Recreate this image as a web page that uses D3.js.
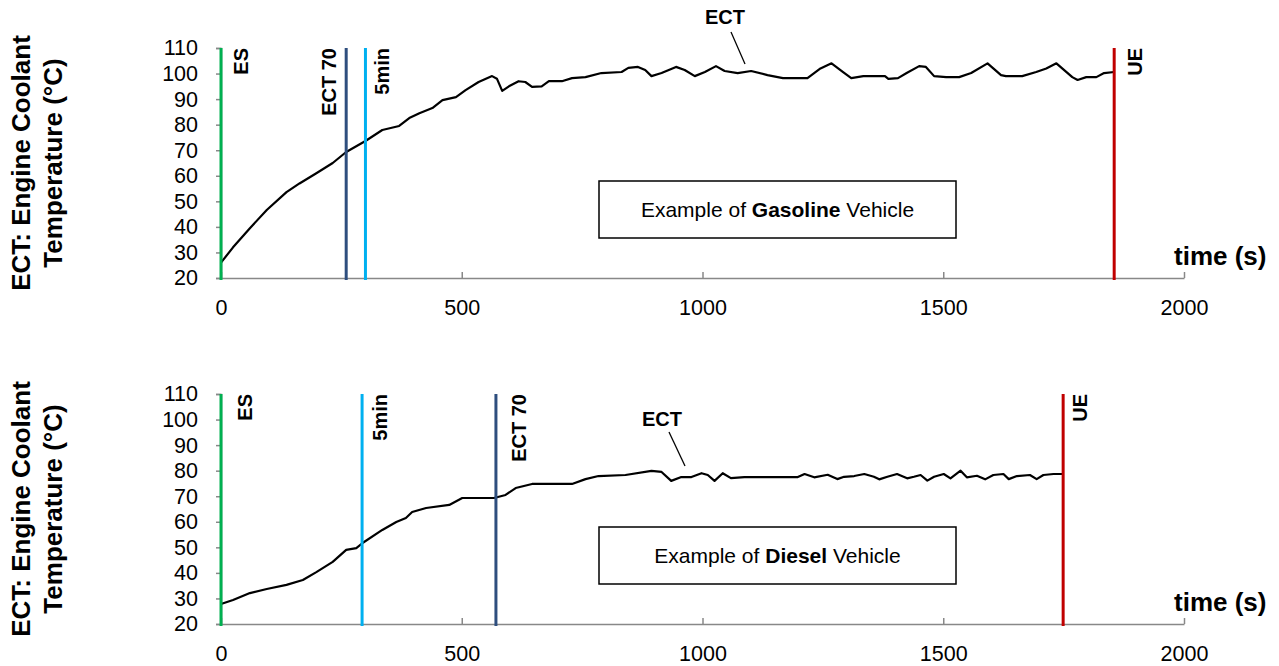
<!DOCTYPE html>
<html>
<head>
<meta charset="utf-8">
<script src="https://cdn.jsdelivr.net/npm/d3@7"></script>
<style>
  html, body { margin: 0; padding: 0; background: #fff; }
  svg { display: block; font-family: Arial, "Liberation Sans", sans-serif; }
</style>
</head>
<body>
<svg id="chart" width="1279" height="666"></svg>
<script>
// ---------- DATA ----------
const xTickValues = [0, 500, 1000, 1500, 2000];
const yTickValues = [20, 30, 40, 50, 60, 70, 80, 90, 100, 110];

// Gasoline vehicle: engine coolant temperature (°C) vs time (s)
const gasTime = [0, 25, 60, 95, 136, 163, 198, 232, 260, 300, 335, 370, 391, 412, 439, 460, 488, 508, 535, 563, 573, 584, 598, 618, 632, 646, 666, 681, 708, 729, 757, 790, 832, 846, 866, 881, 894, 915, 945, 963, 984, 1005, 1028, 1046, 1073, 1101, 1135, 1167, 1218, 1245, 1268, 1292, 1309, 1334, 1379, 1386, 1406, 1424, 1450, 1464, 1481, 1506, 1533, 1558, 1592, 1620, 1630, 1664, 1693, 1714, 1735, 1768, 1779, 1797, 1818, 1834, 1855];
const gasECT  = [26, 32, 39.5, 46.6, 53.6, 57, 61, 65, 69.3, 73.6, 77.9, 79.5, 82.6, 84.5, 86.5, 89.6, 90.8, 93.5, 96.7, 99, 98, 93.2, 95, 97, 96.7, 94.8, 95, 97, 97, 98.2, 98.6, 100.2, 100.6, 102.2, 102.6, 101.4, 99, 100.2, 102.6, 101.4, 99, 100.6, 102.9, 101, 100.2, 101, 99.4, 98.2, 98.2, 102, 104, 100.6, 98.2, 99, 99, 97.9, 98.2, 100.2, 102.9, 102.6, 99, 98.6, 98.6, 100.2, 104, 99.4, 99, 99, 100.6, 102, 104, 98.6, 97.5, 98.6, 98.6, 100.2, 100.6];

// Diesel vehicle
const dslTime = [0, 25, 60, 95, 136, 170, 198, 232, 260, 281, 294, 335, 364, 384, 397, 426, 474, 501, 567, 591, 612, 646, 729, 757, 784, 840, 894, 915, 935, 956, 977, 998, 1011, 1025, 1042, 1059, 1087, 1198, 1212, 1232, 1260, 1280, 1294, 1315, 1336, 1356, 1367, 1384, 1404, 1425, 1439, 1453, 1467, 1481, 1501, 1515, 1536, 1549, 1570, 1587, 1604, 1625, 1636, 1653, 1680, 1694, 1708, 1729, 1749];
const dslECT  = [27.8, 29.4, 32.1, 33.7, 35.3, 37.2, 40.3, 44.3, 49, 49.7, 51.7, 56.8, 59.9, 61.5, 63.8, 65.4, 66.6, 69.3, 69.3, 70.5, 73.2, 74.8, 74.8, 76.7, 77.9, 78.3, 79.9, 79.5, 76, 77.5, 77.5, 79, 78.3, 76, 79, 77.1, 77.5, 77.5, 78.7, 77.4, 78.4, 76.7, 77.6, 77.9, 78.7, 77.6, 76.6, 77.6, 78.7, 77, 77.6, 78.3, 76.1, 77.6, 78.7, 77, 80, 77.4, 78, 76.6, 78.3, 78.7, 76.7, 77.9, 78.3, 76.7, 78.3, 78.7, 78.7];

// Event markers (label, time in s)
const markerNames = ["ES", "ECT 70", "5min", "UE"];
const gasMarkerTimes = [0, 260, 300, 1855];
const dslMarkerTimes = [0, 571, 293, 1749];

const boxPrefix = "Example of ";
const boxSuffix = " Vehicle";
const gasFuel = "Gasoline";
const dslFuel = "Diesel";

// ---------- STYLE ----------
const markerColors = {"ES": "#00B050", "ECT 70": "#2E4E7E", "5min": "#00B0F0", "UE": "#C00000"};
const axisGrey = "#888888";

const svg = d3.select("#chart");
const x = d3.scaleLinear().domain([0, 2000]).range([221, 1184]);

function drawPanel(top, times, temps, markerTimes, fuel, ectLabel, labelSides) {
  const bottom = top + 230;
  const y = d3.scaleLinear().domain([20, 110]).range([bottom, top]);
  const g = svg.append("g");

  // Y axis title
  const midY = (top + bottom) / 2;
  [["ECT: Engine Coolant", 30], ["Temperature (°C)", 62]].forEach(([t, bx]) => {
    g.append("text")
      .attr("transform", `translate(${bx},${midY}) rotate(-90)`)
      .attr("text-anchor", "middle")
      .attr("font-size", 26).attr("font-weight", "bold").attr("fill", "#000")
      .text(t);
  });

  // Y axis
  const yAxis = g.append("g").attr("transform", `translate(${x(0)},0)`)
    .call(d3.axisLeft(y).tickValues(yTickValues).tickFormat(d3.format("d")).tickSize(5).tickPadding(18));
  yAxis.select(".domain").attr("stroke", axisGrey).attr("stroke-width", 1.5);
  yAxis.selectAll(".tick line").attr("stroke", axisGrey).attr("stroke-width", 1.5);
  yAxis.selectAll(".tick text").attr("font-size", 21.5).attr("fill", "#000")
    .attr("font-family", "Arial, 'Liberation Sans', sans-serif");

  // X axis
  const xAxis = g.append("g").attr("transform", `translate(0,${bottom})`)
    .call(d3.axisBottom(x).tickValues(xTickValues).tickFormat(d3.format("d"))
      .tickSizeInner(-6).tickSizeOuter(0).tickPadding(22));
  xAxis.select(".domain").attr("stroke", axisGrey).attr("stroke-width", 1.5);
  xAxis.selectAll(".tick line").attr("stroke", axisGrey).attr("stroke-width", 1.5);
  xAxis.selectAll(".tick text").attr("font-size", 21.5).attr("fill", "#000")
    .attr("font-family", "Arial, 'Liberation Sans', sans-serif");

  g.append("text").attr("x", 1174).attr("y", bottom - 13)
    .attr("font-size", 26).attr("font-weight", "bold").text("time (s)");

  // ECT line
  const pts = times.map((t, i) => [t, temps[i]]);
  g.append("path").datum(pts)
    .attr("fill", "none").attr("stroke", "#000").attr("stroke-width", 2.2)
    .attr("stroke-linejoin", "round")
    .attr("d", d3.line().x(d => x(d[0])).y(d => y(d[1])));

  // markers
  markerNames.forEach((name, i) => {
    const mx = x(markerTimes[i]);
    g.append("line").attr("x1", mx).attr("x2", mx).attr("y1", top).attr("y2", bottom + 2)
      .attr("stroke", markerColors[name]).attr("stroke-width", 3);
    const off = labelSides[i];
    g.append("text")
      .attr("transform", `translate(${mx + off},${top}) rotate(-90)`)
      .attr("text-anchor", "end")
      .attr("font-size", 20).attr("font-weight", "bold").attr("fill", "#000")
      .text(name);
  });

  // ECT annotation
  g.append("text").attr("x", ectLabel.tx).attr("y", ectLabel.ty)
    .attr("text-anchor", "middle").attr("font-size", 20).attr("font-weight", "bold").text("ECT");
  g.append("line").attr("x1", ectLabel.x1).attr("y1", ectLabel.y1)
    .attr("x2", ectLabel.x2).attr("y2", ectLabel.y2)
    .attr("stroke", "#000").attr("stroke-width", 1.3);

  // Box
  const bx = 599, bw = 357, by = top + 133, bh = 57;
  g.append("rect").attr("x", bx).attr("y", by).attr("width", bw).attr("height", bh)
    .attr("fill", "#fff").attr("stroke", "#000").attr("stroke-width", 1.5);
  const bt = g.append("text").attr("x", bx + bw / 2).attr("y", by + bh / 2 + 7.5)
    .attr("text-anchor", "middle").attr("font-size", 21).attr("fill", "#000");
  bt.append("tspan").text(boxPrefix);
  bt.append("tspan").attr("font-weight", "bold").text(fuel);
  bt.append("tspan").text(boxSuffix);
}

drawPanel(48, gasTime, gasECT, gasMarkerTimes, gasFuel,
  {tx: 725, ty: 24, x1: 731, y1: 32, x2: 745, y2: 64},
  [27, -10, 24, 28]);
drawPanel(394, dslTime, dslECT, dslMarkerTimes, dslFuel,
  {tx: 662, ty: 426, x1: 669, y1: 432, x2: 685, y2: 466},
  [31, 30, 25, 24]);
</script>
</body>
</html>
